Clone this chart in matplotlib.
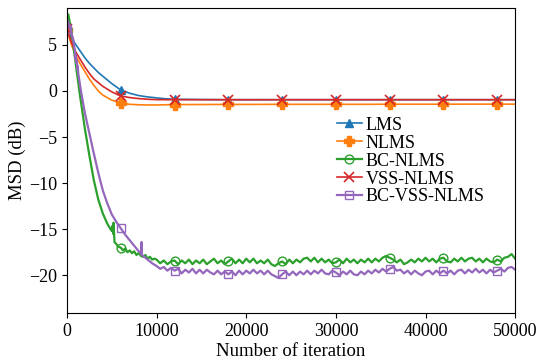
import numpy as np
import matplotlib
matplotlib.use("Agg")
import matplotlib.pyplot as plt

plt.rcParams['font.family'] = ['Liberation Serif', 'DejaVu Serif']

# shared grid for the three slow curves
x_top = [0, 500, 1000, 1500, 2000, 2500, 3000, 3500, 4000, 5000, 6000, 7000, 8000, 9000,
         10000, 11000, 12000, 15000, 18000, 21000, 24000, 27000, 30000, 33000, 36000,
         39000, 42000, 45000, 48000, 50000]
lms = [6.7, 5.8, 5.0, 4.3, 3.6, 3.0, 2.5, 2.0, 1.6, 0.8, 0.1, -0.25, -0.5, -0.65, -0.75,
       -0.85, -0.9, -0.93, -0.95, -0.95, -0.95, -0.95, -0.95, -0.95, -0.95, -0.95,
       -0.95, -0.95, -0.95, -0.95]
nlms = [6.6, 5.0, 3.8, 2.9, 2.1, 1.3, 0.6, 0.0, -0.45, -1.0, -1.3, -1.45, -1.5, -1.52,
        -1.52, -1.5, -1.48, -1.47, -1.46, -1.46, -1.45, -1.45, -1.45, -1.45, -1.44,
        -1.44, -1.44, -1.43, -1.43, -1.43]
vss = [6.7, 5.3, 4.2, 3.4, 2.6, 1.9, 1.3, 0.9, 0.5, -0.1, -0.55, -0.72, -0.83, -0.9,
       -0.94, -0.95, -0.95, -0.95, -0.95, -0.95, -0.95, -0.95, -0.95, -0.95, -0.95,
       -0.95, -0.95, -0.95, -0.95, -0.95]

# BC-NLMS transient
bc_x0 = [0, 150, 400, 700, 1000, 1380, 1700, 2000, 2500, 3000, 3500, 4000, 4500, 4800,
         5000, 5100, 5150, 5200, 5300, 5500, 5700, 6000, 6250, 6500, 6750, 7000, 7250,
         7500, 7750, 8000, 8250, 8500, 8750, 9000, 9250, 9500, 9750]
bc_y0 = [6.7, 8.3, 7.0, 5.0, 2.8, 0.0, -2.1, -4.1, -7.0, -9.7, -11.8, -13.3, -14.4, -14.9,
         -15.2, -14.6, -15.5, -14.3, -16.4, -16.6, -16.9, -17.0, -17.3, -17.1, -17.5,
         -17.3, -17.6, -17.4, -17.8, -17.6, -17.9, -18.0, -17.8, -18.2, -18.0, -18.3, -18.2]

# BC-VSS-NLMS transient
bcv_x0 = [0, 100, 400, 700, 900, 950, 1000, 1050, 1100, 1150, 1200, 1260, 1560, 2000,
          2500, 3000, 3500, 4000, 4500, 5000, 5500, 6000, 6500, 7000, 7500, 8000, 8300,
          8320, 8340, 8500, 9000, 9500]
bcv_y0 = [6.7, 7.6, 6.6, 5.6, 4.2, 3.4, 3.9, 3.0, 3.3, 2.4, 2.7, 1.9, 0.0, -2.4, -4.6,
          -6.8, -8.9, -10.8, -12.2, -13.4, -14.2, -14.9, -15.6, -16.2, -16.8, -17.4,
          -17.7, -16.4, -17.8, -17.9, -18.3, -18.7]

# steady state, every 400 iterations from 10000 to 50000
x_ss = np.arange(10000, 50001, 400)
bc_ss = [-18.3, -18.7, -18.4, -18.8, -18.5, -18.4, -18.8, -18.4, -18.7, -18.3,
         -18.8, -18.4, -18.7, -18.3, -18.8, -18.5, -18.2, -18.7, -18.4, -18.8,
         -18.5, -18.2, -18.7, -18.3, -18.7, -18.2, -18.6, -18.2, -18.7, -18.4,
         -18.7, -18.3, -18.8, -19.0, -18.7, -18.5, -18.8, -18.3, -18.7, -18.3,
         -18.6, -18.2, -18.1, -18.5, -18.1, -18.6, -18.2, -18.6, -18.3, -18.7,
         -18.6, -18.3, -18.7, -18.2, -18.6, -18.3, -18.7, -18.3, -18.6, -18.2,
         -18.6, -18.2, -18.5, -18.1, -17.9, -18.1, -18.3, -18.6, -18.3, -18.8,
         -18.6, -18.3, -18.6, -18.2, -18.5, -18.1, -18.5, -18.2, -18.6, -18.2,
         -18.1, -18.5, -18.6, -18.2, -18.5, -18.1, -18.5, -18.2, -18.1, -18.5,
         -18.2, -18.6, -18.2, -18.5, -18.6, -18.3, -18.5, -18.1, -18.0, -17.7,
         -18.2]
bcv_ss = [-19.0, -19.3, -19.1, -19.5, -19.2, -19.5, -19.3, -19.8, -19.4, -19.7,
          -19.3, -19.8, -19.4, -19.8, -19.4, -19.7, -19.9, -19.5, -19.9, -19.6,
          -19.9, -19.6, -20.0, -19.5, -19.9, -19.5, -19.8, -19.4, -19.8, -19.5,
          -19.9, -19.5, -19.9, -20.1, -20.3, -19.9, -19.6, -20.0, -19.6, -20.0,
          -19.6, -19.9, -19.5, -19.9, -19.5, -19.8, -19.4, -19.8, -19.9, -19.5,
          -19.7, -20.0, -19.6, -19.9, -19.5, -19.9, -20.0, -19.6, -19.9, -19.5,
          -19.8, -19.4, -19.7, -19.3, -19.6, -19.3, -19.1, -19.5, -19.4, -19.8,
          -19.5, -19.9, -19.5, -19.8, -20.0, -19.6, -19.5, -19.9, -19.5, -19.8,
          -19.5, -19.8, -19.5, -19.9, -19.5, -19.4, -19.8, -19.4, -19.7, -19.3,
          -19.7, -19.4, -19.8, -19.4, -19.7, -19.5, -19.3, -19.6, -19.2, -19.1,
          -19.4]

bc_x = np.concatenate([bc_x0, x_ss])
bc_y = np.concatenate([bc_y0, bc_ss])
bcv_x = np.concatenate([bcv_x0, x_ss])
bcv_y = np.concatenate([bcv_y0, bcv_ss])


def marks(x):
    # marker every 6000 iterations
    x = np.asarray(x)
    return list(np.where((x % 6000 == 0) & (x <= 48000))[0])


fig = plt.figure(figsize=(5.4, 3.64), dpi=100)
ax = fig.add_axes([0.124, 0.14, 0.83, 0.838])

ax.plot(x_top, lms, color='#1f77b4', lw=1.2, marker='^', ms=6, markevery=marks(x_top), label='LMS')
ax.plot(x_top, nlms, color='#ff7f0e', lw=1.2, marker='P', ms=6.5, markevery=marks(x_top), label='NLMS')
ax.plot(bc_x, bc_y, color='#2ca02c', lw=1.6, marker='o', ms=6.3, mfc='none', markevery=marks(bc_x), label='BC-NLMS')
ax.plot(x_top, vss, color='#d62728', lw=1.2, marker='x', ms=6.5, mew=1.2, markevery=marks(x_top), label='VSS-NLMS')
ax.plot(bcv_x, bcv_y, color='#9467bd', lw=1.6, marker='s', ms=6.3, mfc='none', markevery=marks(bcv_x), label='BC-VSS-NLMS')

ax.set_xlim(0, 50000)
ax.set_ylim(-24.1, 9.0)
ax.set_xticks([0, 10000, 20000, 30000, 40000, 50000])
ax.set_yticks([5, 0, -5, -10, -15, -20])
ax.tick_params(labelsize=13)
ax.set_xlabel('Number of iteration', fontsize=13.5, labelpad=2)
ax.set_ylabel('MSD (dB)', fontsize=13.5, labelpad=2)

ax.legend(loc='upper left', bbox_to_anchor=(0.586, 0.667), frameon=False, fontsize=13,
          handlelength=1.4, labelspacing=0.05, handletextpad=0.2, borderaxespad=0)

fig.savefig('out.png', dpi=100)
